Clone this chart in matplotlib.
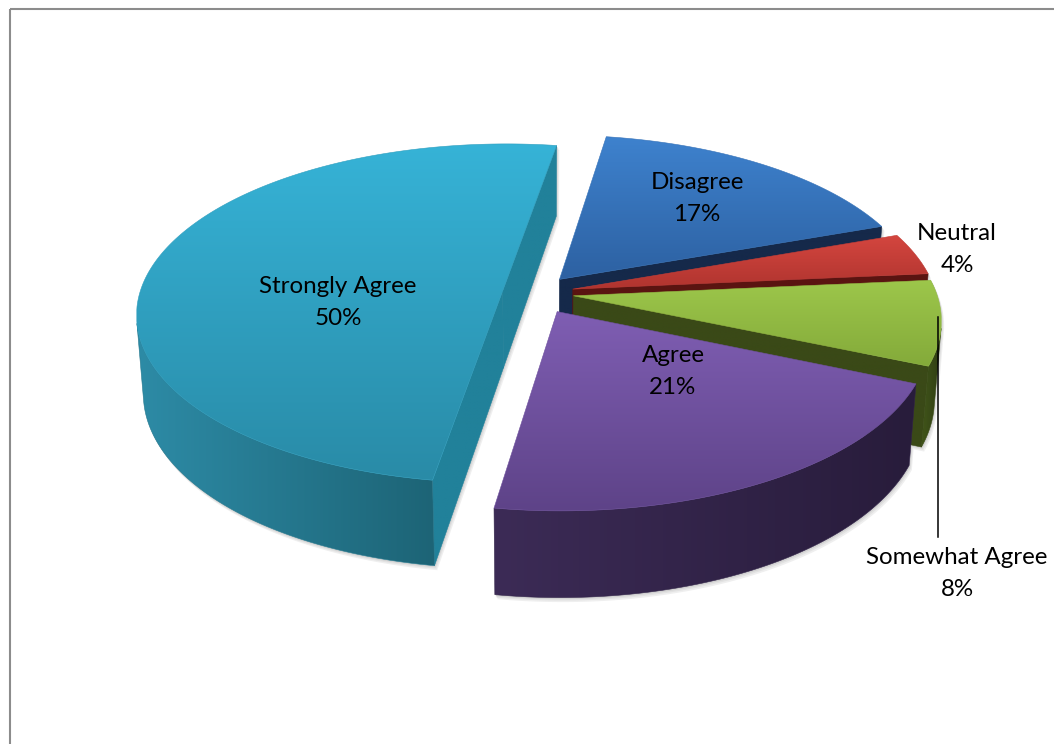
import numpy as np
import matplotlib
matplotlib.use("Agg")
import matplotlib.pyplot as plt
from matplotlib.patches import Polygon, Rectangle
from matplotlib.colors import to_rgb

# —— data, clockwise from the first slice ——
labels = ["Disagree", "Neutral", "Somewhat Agree", "Agree", "Strongly Agree"]
shares = [17, 4, 8, 21, 50]

# colours: top face (light -> dark), cut face, outer wall (light -> dark)
top_hi = ["#3e82ce", "#d4463f", "#9dc74b", "#7f5eb3", "#36b3d7"]
top_lo = ["#2d61a2", "#b0342f", "#84aa3a", "#5e4388", "#298ba7"]
cut_col = ["#15294a", "#5a1411", "#3a4917", "#2d1f45", "#21819a"]
wall_hi = ["#2a5590", "#8a2522", "#42561a", "#3c2b56", "#2d8ba6"]
wall_lo = ["#1d3d68", "#6a1a18", "#2f3d13", "#281c3b", "#1d6476"]

# label baselines (px) for name line; percent line sits one line lower
label_xy = [(697, 189), (957, 240), (957, 564), (673, 362), (338, 293)]
LINE_GAP = 32

# —— 3D camera (pixel space) ——
ELEV = np.radians(27.4)
DIST = 6.6
FOCAL = 2396.0
CX, CY = 535.0, 293.0
THICK = 0.245
START = 81.0
EXPLODE = [0.107, 0.107, 0.107, 0.125, 0.09]

ce, se = np.cos(ELEV), np.sin(ELEV)
CAM = np.array([0.0, -DIST * ce, DIST * se])


def proj(x, y, z):
    x = np.asarray(x, float); y = np.asarray(y, float); z = np.asarray(z, float)
    vy = y + DIST * ce
    vz = z - DIST * se
    yc = vy * se + vz * ce
    zc = vy * ce - vz * se
    return CX + FOCAL * x / zc, CY - FOCAL * yc / zc


def facing(n, p):
    return np.dot(n, CAM - np.asarray(p)) > 0


def shade(ax, pts, c0, c1, vertical=True, z=1):
    pts = np.asarray(pts)
    x0, y0 = pts.min(axis=0)
    x1, y1 = pts.max(axis=0)
    t = np.linspace(0, 1, 128)[:, None]
    rgb = (1 - t) * np.array(to_rgb(c0)) + t * np.array(to_rgb(c1))
    img = rgb[:, None, :] if vertical else rgb[None, :, :]
    mid = tuple((np.array(to_rgb(c0)) + np.array(to_rgb(c1))) / 2)
    poly = Polygon(pts, closed=True, facecolor="none", edgecolor=mid, lw=0.4, zorder=z + 0.01)
    ax.add_patch(poly)
    im = ax.imshow(img, extent=(x0, x1, y1, y0), origin="upper", aspect="auto",
                   interpolation="bilinear", zorder=z)
    im.set_clip_path(poly)


fig = plt.figure(figsize=(10.54, 7.44), dpi=100)
ax = fig.add_axes([0, 0, 1, 1])
ax.axis("off")

cum = np.concatenate([[0], np.cumsum(shares)]) / np.sum(shares)
bounds = START - 360 * cum

slices = []
for i in range(len(shares)):
    a0, a1 = bounds[i], bounds[i + 1]
    mid = np.radians((a0 + a1) / 2)
    ox, oy = EXPLODE[i] * np.cos(mid), EXPLODE[i] * np.sin(mid)
    th = np.radians(np.linspace(a0, a1, 400))
    rx, ry = ox + np.cos(th), oy + np.sin(th)

    faces = []
    # top
    px, py = proj(np.r_[ox, rx], np.r_[oy, ry], 0)
    faces.append(("top", np.c_[px, py]))
    # radial cut faces
    for a, sgn in ((a0, 1), (a1, -1)):
        ar = np.radians(a)
        n = np.array([np.cos(ar + sgn * np.pi / 2), np.sin(ar + sgn * np.pi / 2), 0])
        if facing(n, (ox, oy, 0)):
            xs = [ox, ox + np.cos(ar), ox + np.cos(ar), ox]
            ys = [oy, oy + np.sin(ar), oy + np.sin(ar), oy]
            zs = [0, 0, -THICK, -THICK]
            qx, qy = proj(xs, ys, zs)
            faces.append(("cut", np.c_[qx, qy]))
    # outer wall, front part only
    vis = np.array([facing((np.cos(t), np.sin(t), 0), (ox + np.cos(t), oy + np.sin(t), 0)) for t in th])
    if vis.sum() > 1:
        tx, ty = proj(rx[vis], ry[vis], 0)
        bx, by = proj(rx[vis], ry[vis], -THICK)
        faces.append(("wall", np.c_[np.r_[tx, bx[::-1]], np.r_[ty, by[::-1]]]))
    depth = oy + 0.5 * np.sin(mid)
    slices.append((depth, i, faces))

# soft shadow under everything
for off, col in ((4.5, "#efefef"), (3.0, "#e2e2e2"), (1.6, "#d2d2d2")):
    for _, _, faces in slices:
        for _, pts in faces:
            ax.add_patch(Polygon(pts + [off * 0.6, off], closed=True, facecolor=col,
                                 edgecolor="none", zorder=0.5))

order = sorted(slices, key=lambda s: -s[0])
for k, (_, i, faces) in enumerate(order):
    base = 10 + k * 10
    for kind, pts in faces:
        if kind == "top":
            shade(ax, pts, top_hi[i], top_lo[i], True, base + 3)
        elif kind == "cut":
            shade(ax, pts, cut_col[i], cut_col[i], True, base + 1)
        else:
            shade(ax, pts, wall_hi[i], wall_lo[i], False, base + 2)

# labels
for i, name in enumerate(labels):
    x, y = label_xy[i]
    ax.text(x, y, name, ha="center", va="baseline", fontsize=17.4,
            family=["Lato", "DejaVu Sans"], color="black", zorder=200)
    ax.text(x, y + LINE_GAP, f"{shares[i]}%", ha="center", va="baseline", fontsize=17.4,
            family=["Lato", "DejaVu Sans"], color="black", zorder=200)

# leader line for the small outside label
ax.plot([938, 938], [317, 537], color="black", lw=1.1, zorder=150)

# chart-area frame (only the top and left edges fall inside the picture)
ax.add_patch(Rectangle((9.5, 8.5), 1200, 900, fill=False, edgecolor="#8c8c8c", lw=1.5, zorder=300))

ax.set_xlim(0, 1054)
ax.set_ylim(744, 0)
fig.savefig("out.png", dpi=100, facecolor="white")
